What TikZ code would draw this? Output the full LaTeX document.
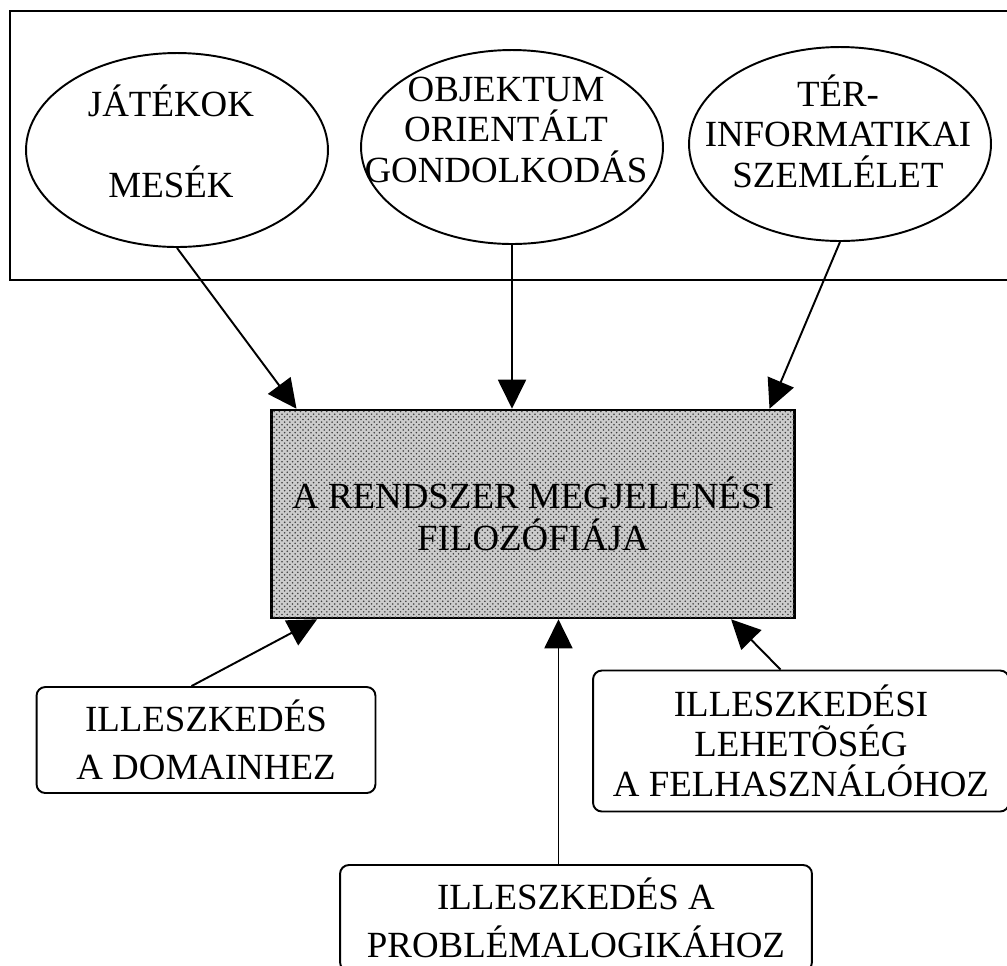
\documentclass[tikz,border=0pt]{standalone}
\usepackage{fontspec}
\setmainfont{Liberation Serif}
\usetikzlibrary{arrows.meta,shapes.geometric,patterns}

\begin{document}
\begin{tikzpicture}[x=0.02cm,y=-0.02cm,font=\fontsize{21}{22.8}\selectfont]
\tikzstyle{oval} = [draw, shape=ellipse, line width=1.1pt, minimum width=6.04cm, minimum height=3.88cm, inner sep=0pt]
\tikzstyle{txt} = [align=center, anchor=base, inner sep=0pt]
\tikzstyle{kert} = [draw, rounded corners=5pt, line width=1.1pt, align=center, inner sep=0pt]
\tikzstyle{nyil} = [-{Triangle[length=0.58cm,width=0.56cm]}, line width=1.1pt]

\useasboundingbox (0,0) rectangle (1007,965);
\clip (0,0) rectangle (1007,965);

% felso keret
\draw [line width=1.5pt] (10,11) rectangle (1030,280);

\node [oval] (jatek) at (177,150) {};
\node [oval] (obj) at (512,147) {};
\node [oval] (ter) at (840,144) {};

% base = utolso sor alapvonala
\node [txt] (jatektxt) at (171,197) {JÁTÉKOK\\[22.8pt]MESÉK};
\node [txt] (objtxt) at (506,182) {OBJEKTUM\\ORIENTÁLT\\GONDOLKODÁS};
\node [txt] (tertxt) at (838,187) {TÉR-\\INFORMATIKAI\\SZEMLÉLET};

% kozepso doboz
\node [draw, line width=1.5pt, fill=gray!40, postaction={pattern=crosshatch dots, pattern color=black!75},
       minimum width=10.46cm, minimum height=4.16cm, align=center, inner sep=0pt]
      (filo) at (533,514) {A RENDSZER MEGJELENÉSI\\[1.2pt]FILOZÓFIÁJA};

% also dobozok
\node [kert, minimum width=6.78cm, minimum height=2.12cm] (dom) at (206,740) {ILLESZKEDÉS\\[4.8pt]A DOMAINHEZ};
\node [kert, minimum width=8.32cm, minimum height=2.82cm] (fel) at (801,741) {ILLESZKEDÉSI\\LEHETÕSÉG\\A FELHASZNÁLÓHOZ};
\node [kert, minimum width=9.44cm, minimum height=2.12cm] (prob) at (576,918) {ILLESZKEDÉS A\\[4.8pt]PROBLÉMALOGIKÁHOZ};

\draw [nyil] (jatek.south) -- (filo.156);
\draw [nyil] (obj.south) -- (filo.north -| obj.south);
\draw [nyil] (ter.south) -- (filo.24.6);

\draw [nyil] (dom.105) -- (filo.206.5);
\draw [nyil] (prob.108) -- (filo.south -| prob.108);
\draw [nyil] (fel.106) -- (filo.332);
\end{tikzpicture}
\end{document}
